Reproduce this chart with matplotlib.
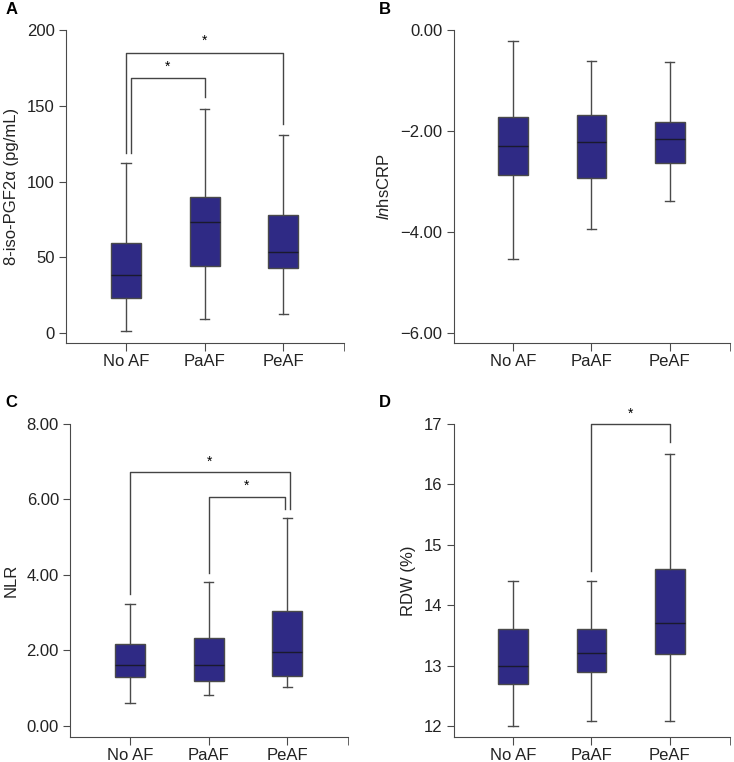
import matplotlib.pyplot as plt

plt.rcParams['font.family'] = ['Liberation Sans', 'DejaVu Sans']
plt.rcParams['mathtext.fontset'] = 'custom'
plt.rcParams['mathtext.it'] = 'Liberation Sans:italic'
plt.rcParams['mathtext.rm'] = 'Liberation Sans'

groups = ['No AF', 'PaAF', 'PeAF']

# five-number summaries per group: low whisker, Q1, median, Q3, high whisker
iso_stats = [[1.3, 23, 38.5, 59.5, 112.5],
             [9.5, 44, 73, 90, 148],
             [12.3, 43, 53.5, 78, 130.6]]
crp_stats = [[-4.53, -2.88, -2.30, -1.72, -0.22],
             [-3.94, -2.93, -2.21, -1.68, -0.61],
             [-3.38, -2.64, -2.16, -1.82, -0.64]]
nlr_stats = [[0.62, 1.30, 1.61, 2.17, 3.22],
             [0.82, 1.18, 1.61, 2.32, 3.81],
             [1.02, 1.33, 1.95, 3.05, 5.50]]
rdw_stats = [[12.0, 12.69, 12.99, 13.60, 14.40],
             [12.09, 12.90, 13.21, 13.60, 14.40],
             [12.09, 13.19, 13.70, 14.59, 16.50]]

# significance brackets: (x1, x2, bar height, left drop-to, right drop-to, star height)
iso_sig = [(1.07, 2, 168, 118.5, 156, 176),
           (1, 3, 185, 118.5, 138, 193)]
nlr_sig = [(1, 3.03, 6.72, 3.49, 5.75, 7.0),
           (2, 2.97, 6.05, 4.04, 5.75, 6.35)]
rdw_sig = [(2, 3, 17.0, 14.57, 16.69, 17.17)]

box_face = '#2f2a85'
edge = '#4a4a4a'


def draw_panel(ax, stats, ylim, yticks, yticklabels, ylabel, sig):
    bxp = []
    for s in stats:
        bxp.append({'whislo': s[0], 'q1': s[1], 'med': s[2], 'q3': s[3],
                    'whishi': s[4], 'fliers': []})
    ax.bxp(bxp, positions=[1, 2, 3], widths=0.38, patch_artist=True,
           showfliers=False,
           boxprops=dict(facecolor=box_face, edgecolor=edge, linewidth=1),
           medianprops=dict(color='#1a1a2e', linewidth=1),
           whiskerprops=dict(color=edge, linewidth=1),
           capprops=dict(color=edge, linewidth=1), capwidths=0.12)
    ax.set_xlim(0.24, 3.77)
    ax.set_ylim(*ylim)
    ax.set_xticks([1, 2, 3])
    ax.set_xticklabels(groups)
    ax.set_xticks([3.77], minor=True)
    ax.set_yticks(yticks)
    ax.set_yticklabels(yticklabels)
    ax.spines['top'].set_visible(False)
    ax.spines['right'].set_visible(False)
    ax.spines['left'].set_color(edge)
    ax.spines['bottom'].set_color(edge)
    ax.spines['left'].set_bounds(ylim[0], yticks[-1])
    ax.tick_params(axis='both', which='both', color=edge, length=5,
                   labelsize=12, colors='#222222', pad=3)
    ax.tick_params(axis='x', which='both', length=6, pad=2)
    ax.set_ylabel(ylabel, fontsize=12, color='#222222', labelpad=6)
    for x1, x2, h, d1, d2, st in sig:
        ax.plot([x1, x1, x2, x2], [d1, h, h, d2], color='#444444',
                linewidth=1, clip_on=False)
        ax.text((x1 + x2) / 2, st, '*', ha='center', va='center',
                fontsize=10, clip_on=False)


fig = plt.figure(figsize=(7.34, 7.62), dpi=100)
axA = fig.add_axes([0.0899, 0.5499, 0.3787, 0.4107])
axB = fig.add_axes([0.618, 0.5499, 0.3766, 0.4107])
axC = fig.add_axes([0.0954, 0.0328, 0.3787, 0.4112])
axD = fig.add_axes([0.618, 0.0328, 0.3766, 0.4112])

draw_panel(axA, iso_stats, (-6.6, 200), [0, 50, 100, 150, 200],
           ['0', '50', '100', '150', '200'], '8-iso-PGF2α (pg/mL)', iso_sig)
draw_panel(axB, crp_stats, (-6.2, 0), [-6, -4, -2, 0],
           ['−6.00', '−4.00', '−2.00', '0.00'], r'$\mathit{ln}$hsCRP', [])
draw_panel(axC, nlr_stats, (-0.29, 8), [0, 2, 4, 6, 8],
           ['0.00', '2.00', '4.00', '6.00', '8.00'], 'NLR', nlr_sig)
draw_panel(axD, rdw_stats, (11.82, 17), [12, 13, 14, 15, 16, 17],
           ['12', '13', '14', '15', '16', '17'], 'RDW (%)', rdw_sig)

# panel letters
for letter, x, y in [('A', 0.007, 0.997), ('B', 0.516, 0.997),
                     ('C', 0.007, 0.482), ('D', 0.516, 0.482)]:
    fig.text(x, y, letter, fontsize=12, fontweight='bold',
             va='top', ha='left')

fig.savefig('out.png', dpi=100)
